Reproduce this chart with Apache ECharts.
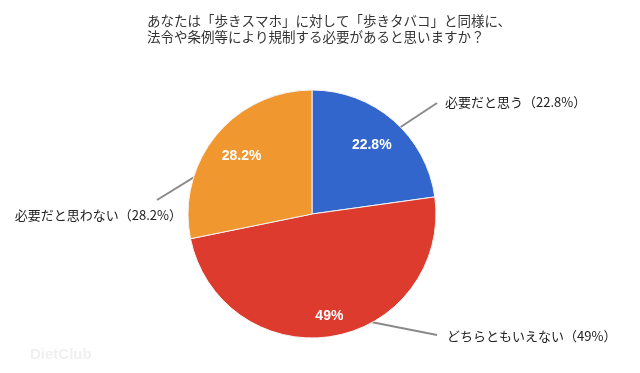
<!DOCTYPE html>
<html>
<head>
<meta charset="utf-8">
<script src="https://cdn.jsdelivr.net/npm/echarts@6/dist/echarts.min.js"></script>
<style>
html,body{margin:0;padding:0;background:#fff;}
#c{width:640px;height:373px;}
</style>
</head>
<body>
<div id="c"></div>
<script>
var titleText = 'あなたは「歩きスマホ」に対して「歩きタバコ」と同様に、\n法令や条例等により規制する必要があると思いますか？';
var categories = ['必要だと思う', 'どちらともいえない', '必要だと思わない'];
var values = [22.8, 49, 28.2];
var valueLabels = ['22.8%', '49%', '28.2%'];
var colors = ['#3266cc', '#dc3b2d', '#f0982f'];

var CX = 312, CY = 214, R = 124;
var FONT_JP = '"Noto Sans CJK JP", "Noto Sans", sans-serif';

// layout for outer labels (label anchor, align, leader start angle & radius fraction, leader end offset)
var outerLayout = [
  {x: 445, y: 102, align: 'left', ang: 44, rf: 0.88, ex: -8, ey: 1},
  {x: 447, y: 336, align: 'left', ang: 159, rf: 0.90, ex: -10, ey: -1},
  {x: 182, y: 215, align: 'right', ang: 297, rf: 0.88, ex: -25, ey: -15}
];

var chart = echarts.init(document.getElementById('c'), null, {renderer: 'canvas'});

var mainData = categories.map(function (c, i) {
  return {name: c, value: values[i], itemStyle: {color: colors[i]}};
});
var innerData = categories.map(function (c, i) {
  return {name: c, value: values[i]};
});

chart.setOption({
  animation: false,
  backgroundColor: '#ffffff',
  title: {
    text: titleText,
    left: 142,
    top: 8,
    textStyle: {fontFamily: FONT_JP, fontSize: 13.5, fontWeight: 'normal', color: '#333', lineHeight: 16}
  },
  graphic: [{
    type: 'text', left: 30, top: 347, silent: true,
    style: {text: 'DietClub', fill: '#f0f0f0', font: 'bold 15px "Liberation Sans", sans-serif'}
  }],
  series: [
    {
      type: 'pie',
      center: [CX, CY],
      radius: [0, R],
      startAngle: 90,
      clockwise: true,
      silent: true,
      avoidLabelOverlap: false,
      itemStyle: {borderColor: '#f4f4f4', borderWidth: 1},
      label: {
        show: true,
        position: 'outside',
        fontFamily: FONT_JP,
        fontSize: 13,
        color: '#222',
        formatter: function (p) { return p.name + '（' + valueLabels[p.dataIndex] + '）'; }
      },
      labelLine: {show: true, length: 10, length2: 10, lineStyle: {color: '#8a8a8a', width: 2}},
      labelLayout: function (p) {
        var L = outerLayout[p.dataIndex];
        var a = L.ang * Math.PI / 180;
        var sx = CX + R * L.rf * Math.sin(a);
        var sy = CY - R * L.rf * Math.cos(a);
        var ex = L.x + L.ex, ey = L.y + L.ey;
        return {
          x: L.x, y: L.y, align: L.align, verticalAlign: 'middle',
          labelLinePoints: [[sx, sy], [ex, ey]]
        };
      },
      data: mainData
    },
    {
      type: 'pie',
      center: [CX, CY],
      radius: [74, 102],
      startAngle: 90,
      clockwise: true,
      silent: true,
      z: 5,
      itemStyle: {color: 'rgba(0,0,0,0)', borderWidth: 0},
      label: {
        show: true,
        position: 'inside',
        color: '#ffffff',
        fontFamily: '"Liberation Sans", Arial, sans-serif',
        fontWeight: 'bold',
        fontSize: 14,
        formatter: function (p) { return valueLabels[p.dataIndex]; }
      },
      labelLine: {show: false},
      labelLayout: function (p) {
        return p.dataIndex === 1 ? {dx: 2, dy: 12} : {};
      },
      data: innerData
    }
  ]
});
</script>
</body>
</html>
